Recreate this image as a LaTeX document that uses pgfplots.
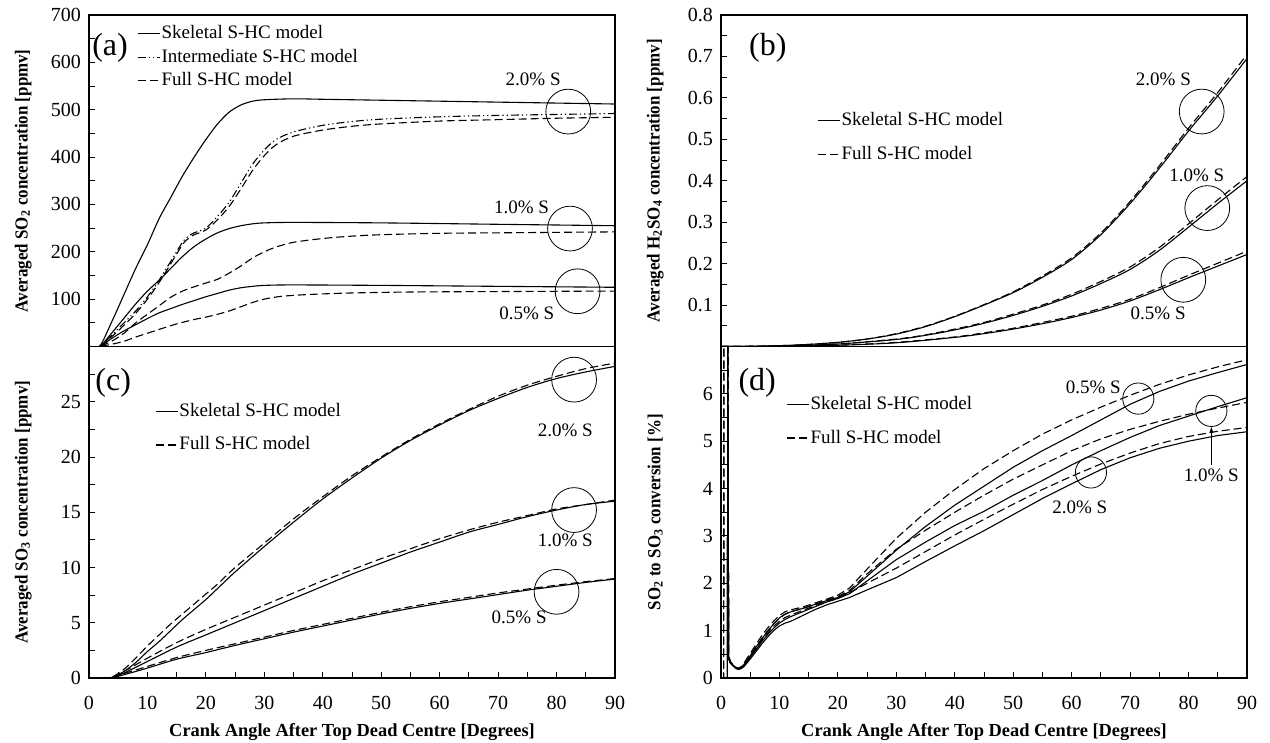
\documentclass[border=0pt]{standalone}
\usepackage{fontspec}
\setmainfont{Liberation Serif}
\usepackage{pgfplots}
\pgfplotsset{compat=1.18}
\usetikzlibrary{arrows.meta}

\pgfplotsset{
  panel/.style={
    scale only axis, width=263pt, height=165.75pt,
    xmin=0, xmax=90,
    axis line style={line width=0.6pt},
    tick style={line width=0.5pt, black},
    major tick length=3pt, minor tick length=3pt,
    xtick pos=bottom, ytick pos=left,
    tick align=inside,
    xticklabel shift=5.5pt, yticklabel shift=0.5pt,
    /pgf/number format/assume math mode=true,
    tick label style={font=\fontsize{10}{12}\selectfont},
    label style={font=\bfseries\fontsize{9.2}{11}\selectfont},
    ylabel style={at={(axis description cs:-0.125,0.5)}, anchor=center, xscale=0.92},
    legend cell align=left,
    legend image code/.code={\draw[##1] (0pt,0pt) -- (11pt,0pt);},
    legend style={draw=none, fill=none, inner sep=0pt,
      font=\fontsize{9.5}{11}\selectfont,
      nodes={inner sep=0.6pt, text height=7pt, text depth=2pt}},
  },
  skel/.style={black, solid, line width=0.55pt},
  full/.style={black, line width=0.55pt, dash pattern=on 4pt off 2pt},
  inter/.style={black, line width=0.55pt, dash pattern=on 4pt off 1.5pt on 0.6pt off 1.5pt on 0.6pt off 1.5pt},
}
\newcommand{\lab}{\fontsize{9.5}{11}\selectfont}
\newcommand{\pan}{\fontsize{16}{18}\selectfont}

\begin{document}
\begin{tikzpicture}
\useasboundingbox (0,0) rectangle (635pt,-371.5pt);

% (a) SO2
\begin{axis}[panel, at={(44.5pt,-7.5pt)}, anchor=north west,
  ymin=0, ymax=700, ytick={100,200,...,700}, minor ytick={50,150,...,650},
  xtick=\empty,
  ylabel={Averaged SO\textsubscript{2} concentration [ppmv]},
  legend style={at={(axis cs:8.2,611)}, anchor=west, row sep=1.5pt}]
\addplot[skel, smooth] coordinates {(0,0)(1.8,0)(4,55)(6,110)(8,165)(10,215)(12,270)(14,315)(16,360)(18,400)(20,437)(22,470)(24,495)(26,510)(28,518)(30,521)(35,523)(40,522)(50,520)(60,518)(70,516)(80,514)(90,512)};
\addlegendentry{Skeletal S-HC model}
\addplot[inter, smooth] coordinates {(0,0)(1.8,0)(4,25)(6,50)(8,75)(10,105)(12,140)(14,180)(16,220)(17,233)(18,240)(20,250)(22,275)(24,305)(26,345)(28,385)(30,415)(32,437)(35,453)(40,467)(45,475)(50,480)(60,485)(70,488)(80,490)(90,492)};
\addlegendentry{Intermediate S-HC model}
\addplot[full, smooth] coordinates {(0,0)(1.8,0)(4,22)(6,45)(8,70)(10,100)(12,135)(14,175)(16,215)(17,228)(18,236)(20,246)(22,268)(24,296)(26,333)(28,372)(30,403)(32,426)(35,444)(40,457)(45,465)(50,470)(60,476)(70,479)(80,482)(90,484)};
\addlegendentry{Full S-HC model}
\addplot[skel, smooth, forget plot] coordinates {(0,0)(1.8,0)(4,30)(6,60)(8,90)(10,117)(12,140)(14,165)(16,190)(18,211)(20,227)(22,240)(24,249)(26,255)(28,259)(30,261)(35,262)(50,261)(70,258)(90,255)};
\addplot[full, smooth, forget plot] coordinates {(0,0)(1.8,0)(4,12)(6,28)(8,50)(10,68)(12,86)(14,104)(16,117)(18,126)(20,134)(22,142)(24,155)(26,170)(28,187)(30,200)(32,210)(35,220)(40,228)(45,233)(50,236)(60,239)(70,240)(80,241)(90,242)};
\addplot[skel, smooth, forget plot] coordinates {(0,0)(1.8,0)(4,18)(6,33)(8,46)(10,59)(12,71)(14,80)(16,89)(18,97)(20,105)(22,112)(24,119)(26,124)(28,127)(30,129)(35,130)(50,129)(70,127)(90,125)};
\addplot[full, smooth, forget plot] coordinates {(0,0)(1.8,0)(4,5)(6,11)(8,20)(10,28)(12,36)(14,44)(16,51)(18,57)(20,62)(22,68)(24,75)(26,84)(28,93)(30,100)(33,106)(38,110)(45,113)(55,115)(70,116)(90,117)};
\node[font=\pan] at (axis cs:3.6,630) {(a)};
\draw (axis cs:82,496) circle [radius=11.2pt];
\draw (axis cs:82.3,249) circle [radius=11.2pt];
\draw (axis cs:83.6,116.6) circle [radius=11.2pt];
\node[font=\lab] at (axis cs:76,564) {2.0\% S};
\node[font=\lab] at (axis cs:74,294.5) {1.0\% S};
\node[font=\lab] at (axis cs:74.9,69.6) {0.5\% S};
\end{axis}

% (c) SO3
\begin{axis}[panel, at={(44.5pt,-173.25pt)}, anchor=north west,
  ymin=0, ymax=30, ytick={0,5,...,25}, minor ytick={2.5,7.5,...,27.5},
  xtick={0,10,...,90}, minor xtick={5,15,...,85},
  xlabel={Crank Angle After Top Dead Centre [Degrees]},
  ylabel={Averaged SO\textsubscript{3} concentration [ppmv]},
  legend style={at={(axis cs:11.25,22.6)}, anchor=west, row sep=6.5pt}]
\addplot[skel, smooth] coordinates {(0,0)(3.5,0)(6,0.6)(8,1.4)(10,2.4)(12,3.3)(14,4.3)(16,5.3)(18,6.2)(20,7.1)(22,8.1)(25,9.6)(30,11.9)(35,14.1)(40,16.2)(45,18.1)(50,19.9)(55,21.5)(60,22.9)(65,24.2)(70,25.3)(75,26.3)(80,27.1)(85,27.7)(90,28.2)};
\addlegendentry{Skeletal S-HC model}
\addplot[full, smooth] coordinates {(0,0)(3.5,0)(6,0.8)(8,1.8)(10,2.9)(12,3.9)(14,4.9)(16,5.8)(18,6.7)(20,7.6)(22,8.5)(25,10.0)(30,12.2)(35,14.4)(40,16.4)(45,18.3)(50,20.0)(55,21.6)(60,23.0)(65,24.3)(70,25.5)(75,26.5)(80,27.3)(85,28.0)(90,28.5)};
\addlegendentry{Full S-HC model}
\addplot[skel, smooth, forget plot] coordinates {(0,0)(3.5,0)(6,0.45)(10,1.5)(15,2.8)(20,3.9)(25,5.0)(30,6.1)(35,7.2)(40,8.3)(45,9.4)(50,10.4)(55,11.4)(60,12.3)(65,13.2)(70,13.9)(75,14.6)(80,15.2)(85,15.7)(90,16.0)};
\addplot[full, smooth, forget plot] coordinates {(0,0)(3.5,0)(6,0.6)(10,1.8)(15,3.2)(20,4.4)(25,5.5)(30,6.6)(35,7.7)(40,8.8)(45,9.8)(50,10.8)(55,11.7)(60,12.6)(65,13.4)(70,14.1)(75,14.7)(80,15.3)(85,15.7)(90,16.1)};
\addplot[skel, smooth, forget plot] coordinates {(0,0)(3.5,0)(6,0.3)(10,0.9)(15,1.7)(20,2.3)(25,2.95)(30,3.55)(35,4.15)(40,4.7)(45,5.25)(50,5.8)(55,6.3)(60,6.75)(65,7.15)(70,7.55)(75,7.95)(80,8.3)(85,8.65)(90,8.95)};
\addplot[full, smooth, forget plot] coordinates {(0,0)(3.5,0)(6,0.4)(10,1.05)(15,1.85)(20,2.5)(25,3.1)(30,3.7)(35,4.3)(40,4.85)(45,5.4)(50,5.95)(55,6.45)(60,6.9)(65,7.3)(70,7.7)(75,8.05)(80,8.4)(85,8.72)(90,9.0)};
\node[font=\pan] at (axis cs:4.15,26.7) {(c)};
\draw (axis cs:83,27) circle [radius=11.2pt];
\draw (axis cs:83,15.2) circle [radius=11.2pt];
\draw (axis cs:80,7.8) circle [radius=11.2pt];
\node[font=\lab] at (axis cs:81.5,22.4) {2.0\% S};
\node[font=\lab] at (axis cs:81.5,12.5) {1.0\% S};
\node[font=\lab] at (axis cs:73.6,5.5) {0.5\% S};
\end{axis}

% (b) H2SO4
\begin{axis}[panel, at={(360.5pt,-7.5pt)}, anchor=north west,
  ymin=0, ymax=0.8, ytick={0.1,0.2,...,0.8}, minor ytick={0.05,0.15,...,0.75},
  yticklabel style={/pgf/number format/.cd, fixed, precision=1},
  xtick=\empty,
  ylabel={Averaged H\textsubscript{2}SO\textsubscript{4} concentration [ppmv]},
  legend style={at={(axis cs:16.4,0.504)}, anchor=west, row sep=6.5pt}]
\addplot[skel, smooth] coordinates {(0,0)(5,0.0005)(10,0.002)(15,0.005)(20,0.01)(25,0.018)(30,0.03)(35,0.048)(40,0.072)(45,0.1)(50,0.13)(55,0.167)(60,0.21)(65,0.27)(70,0.345)(75,0.43)(80,0.52)(85,0.605)(90,0.695)};
\addlegendentry{Skeletal S-HC model}
\addplot[full, smooth] coordinates {(0,0)(5,0.0005)(10,0.002)(15,0.005)(20,0.01)(25,0.018)(30,0.031)(35,0.049)(40,0.073)(45,0.101)(50,0.132)(55,0.17)(60,0.214)(65,0.274)(70,0.35)(75,0.436)(80,0.527)(85,0.613)(90,0.705)};
\addlegendentry{Full S-HC model}
\addplot[skel, smooth, forget plot] coordinates {(0,0)(10,0.001)(20,0.006)(30,0.017)(35,0.027)(40,0.04)(45,0.056)(50,0.075)(55,0.097)(60,0.122)(65,0.152)(70,0.186)(75,0.232)(80,0.288)(85,0.345)(90,0.40)};
\addplot[full, smooth, forget plot] coordinates {(0,0)(10,0.001)(20,0.006)(30,0.018)(35,0.028)(40,0.042)(45,0.058)(50,0.078)(55,0.1)(60,0.126)(65,0.157)(70,0.192)(75,0.239)(80,0.296)(85,0.354)(90,0.41)};
\addplot[skel, smooth, forget plot] coordinates {(0,0)(10,0.0005)(20,0.003)(30,0.009)(40,0.022)(45,0.031)(50,0.042)(55,0.055)(60,0.07)(65,0.088)(70,0.11)(75,0.137)(80,0.166)(85,0.194)(90,0.222)};
\addplot[full, smooth, forget plot] coordinates {(0,0)(10,0.0005)(20,0.003)(30,0.01)(40,0.023)(45,0.033)(50,0.044)(55,0.058)(60,0.073)(65,0.092)(70,0.114)(75,0.142)(80,0.172)(85,0.201)(90,0.23)};
\node[font=\pan] at (axis cs:8,0.72) {(b)};
\draw (axis cs:82.25,0.567) circle [radius=11.2pt];
\draw (axis cs:83.2,0.334) circle [radius=11.2pt];
\draw (axis cs:79.1,0.161) circle [radius=11.2pt];
\node[font=\lab] at (axis cs:75.7,0.645) {2.0\% S};
\node[font=\lab] at (axis cs:81.4,0.414) {1.0\% S};
\node[font=\lab] at (axis cs:74.8,0.0795) {0.5\% S};
\end{axis}

% (d) conversion
\begin{axis}[panel, at={(360.5pt,-173.25pt)}, anchor=north west,
  ymin=0, ymax=7, ytick={0,1,...,6}, minor ytick={0.5,1.5,...,6.5},
  xtick={0,10,...,90}, minor xtick={5,15,...,85},
  xlabel={Crank Angle After Top Dead Centre [Degrees]},
  ylabel={SO\textsubscript{2} to SO\textsubscript{3} conversion [\%]},
  legend style={at={(axis cs:11.1,5.42)}, anchor=west, row sep=6.5pt}]
\addplot[skel] coordinates {(0,0)(1.1,0)(1.15,7.5)(1.3,0.45)(1.6,0.33)(2,0.28)(2.5,0.22)(3,0.2)(3.5,0.22)(4,0.3)(5,0.47)(6,0.65)(7,0.83)(8,0.99)(9,1.14)(10,1.27)(11,1.35)(12,1.4)(14,1.47)(16,1.55)(18,1.63)(20,1.7)(22,1.82)(25,2.15)(30,2.7)(35,3.2)(40,3.65)(45,4.05)(50,4.45)(55,4.8)(60,5.12)(65,5.45)(70,5.78)(75,6.05)(80,6.27)(85,6.45)(90,6.62)};
\addlegendentry{Skeletal S-HC model}
\addplot[full] coordinates {(0,0)(0.45,0)(0.5,7.5)(1.2,7.5)(1.3,0.48)(1.6,0.35)(2,0.29)(2.5,0.23)(3,0.21)(3.5,0.24)(4,0.33)(5,0.52)(6,0.71)(7,0.9)(8,1.06)(9,1.2)(10,1.32)(11,1.4)(12,1.44)(14,1.5)(16,1.58)(18,1.66)(20,1.75)(22,1.9)(25,2.3)(30,2.95)(35,3.5)(40,3.98)(45,4.42)(50,4.8)(55,5.15)(60,5.45)(65,5.72)(70,5.97)(75,6.2)(80,6.4)(85,6.57)(90,6.72)};
\addlegendentry{Full S-HC model}
\addplot[skel, forget plot] coordinates {(0,0)(1.1,0)(1.15,7.5)(1.3,0.42)(1.6,0.32)(2,0.27)(2.5,0.21)(3,0.19)(3.5,0.21)(4,0.27)(5,0.43)(6,0.6)(7,0.77)(8,0.92)(9,1.05)(10,1.16)(11,1.24)(12,1.3)(14,1.4)(16,1.5)(18,1.6)(20,1.68)(22,1.78)(25,2.05)(30,2.5)(35,2.87)(40,3.22)(45,3.52)(50,3.86)(55,4.17)(60,4.5)(65,4.8)(70,5.08)(75,5.33)(80,5.53)(85,5.73)(90,5.92)};
\addplot[full, forget plot] coordinates {(0,0)(0.45,0)(0.5,7.5)(1.2,7.5)(1.3,0.46)(1.6,0.34)(2,0.28)(2.5,0.22)(3,0.2)(3.5,0.23)(4,0.3)(5,0.48)(6,0.66)(7,0.84)(8,1.0)(9,1.14)(10,1.26)(11,1.35)(12,1.4)(14,1.47)(16,1.55)(18,1.64)(20,1.72)(22,1.85)(25,2.2)(30,2.72)(35,3.12)(40,3.5)(45,3.86)(50,4.2)(55,4.5)(60,4.8)(65,5.05)(70,5.25)(75,5.42)(80,5.57)(85,5.7)(90,5.82)};
\addplot[skel, forget plot] coordinates {(0,0)(1.1,0)(1.15,7.5)(1.3,0.4)(1.6,0.31)(2,0.26)(2.5,0.2)(3,0.18)(3.5,0.2)(4,0.25)(5,0.4)(6,0.56)(7,0.72)(8,0.87)(9,1.0)(10,1.1)(11,1.16)(12,1.2)(14,1.32)(16,1.44)(18,1.54)(20,1.62)(22,1.7)(25,1.86)(30,2.12)(35,2.46)(40,2.79)(45,3.11)(50,3.45)(55,3.79)(60,4.1)(65,4.4)(70,4.65)(75,4.85)(80,5.0)(85,5.12)(90,5.2)};
\addplot[full, forget plot] coordinates {(0,0)(0.45,0)(0.5,7.5)(1.2,7.5)(1.3,0.44)(1.6,0.33)(2,0.27)(2.5,0.21)(3,0.19)(3.5,0.22)(4,0.28)(5,0.45)(6,0.62)(7,0.8)(8,0.95)(9,1.09)(10,1.2)(11,1.28)(12,1.33)(14,1.43)(16,1.52)(18,1.61)(20,1.68)(22,1.8)(25,2.0)(30,2.32)(35,2.67)(40,3.02)(45,3.35)(50,3.67)(55,3.98)(60,4.26)(65,4.52)(70,4.75)(75,4.95)(80,5.1)(85,5.21)(90,5.29)};
\node[font=\pan] at (axis cs:6.2,6.23) {(d)};
\draw (axis cs:71.4,5.9) circle [radius=7.8pt];
\draw (axis cs:83.9,5.64) circle [radius=7.8pt];
\draw (axis cs:63.3,4.34) circle [radius=7.8pt];
\node[font=\lab] at (axis cs:63.7,6.14) {0.5\% S};
\node[font=\lab] at (axis cs:83.9,4.27) {1.0\% S};
\node[font=\lab] at (axis cs:61.4,3.61) {2.0\% S};
\draw[-{Stealth[length=3pt,width=2pt]}, line width=0.4pt] (axis cs:83.9,4.5) -- (axis cs:83.9,5.3);
\end{axis}
\end{tikzpicture}
\end{document}
